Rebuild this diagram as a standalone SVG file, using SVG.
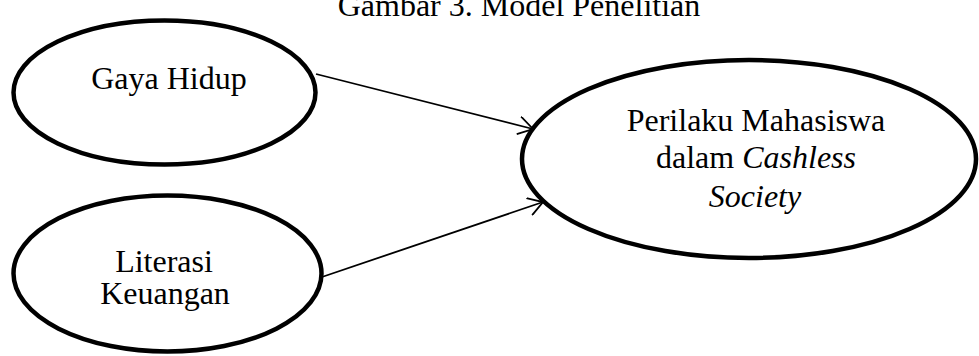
<svg xmlns="http://www.w3.org/2000/svg" width="979" height="356" viewBox="0 0 979 356">
<style>
  .node { fill: #ffffff; stroke: #000000; stroke-width: 4.5; }
  .label { font-family: "Liberation Serif", "Times New Roman", serif; font-size: 32px; fill: #000000; text-anchor: middle; }
  .it { font-style: italic; }
  .conn { stroke: #000000; stroke-width: 1.8; fill: none; marker-end: url(#arrow); }
</style>
<defs>
  <marker id="arrow" viewBox="0 0 16 19" refX="15" refY="9.5" markerWidth="16" markerHeight="19" markerUnits="userSpaceOnUse" orient="auto">
    <path d="M0.5,0.5 L15,9.5 L0.5,18.5" fill="none" stroke="#000000" stroke-width="1.8"/>
  </marker>
</defs>
<rect x="0" y="0" width="979" height="356" fill="#ffffff"/>
<text id="title" class="label" x="519" y="16" font-size="33">Gambar 3. Model Penelitian</text>
<g id="connectors">
  <line class="conn" x1="316" y1="74" x2="533" y2="129"/>
  <line class="conn" x1="319" y1="278" x2="543" y2="202"/>
</g>
<g id="gaya-hidup">
  <ellipse class="node" cx="164.5" cy="92.5" rx="151" ry="72"/>
  <text class="label" x="169" y="89">Gaya Hidup</text>
</g>
<g id="literasi-keuangan">
  <ellipse class="node" cx="167.5" cy="273.5" rx="154" ry="78"/>
  <text class="label" font-size="31"><tspan x="164" y="272">Literasi</tspan><tspan x="165" y="304">Keuangan</tspan></text>
</g>
<g id="perilaku-mahasiswa">
  <ellipse class="node" cx="749" cy="159" rx="227" ry="99"/>
  <text class="label"><tspan x="756" y="131">Perilaku Mahasiswa</tspan><tspan x="756" y="168">dalam <tspan class="it">Cashless</tspan></tspan><tspan class="it" x="755" y="207">Society</tspan></text>
</g>
</svg>
